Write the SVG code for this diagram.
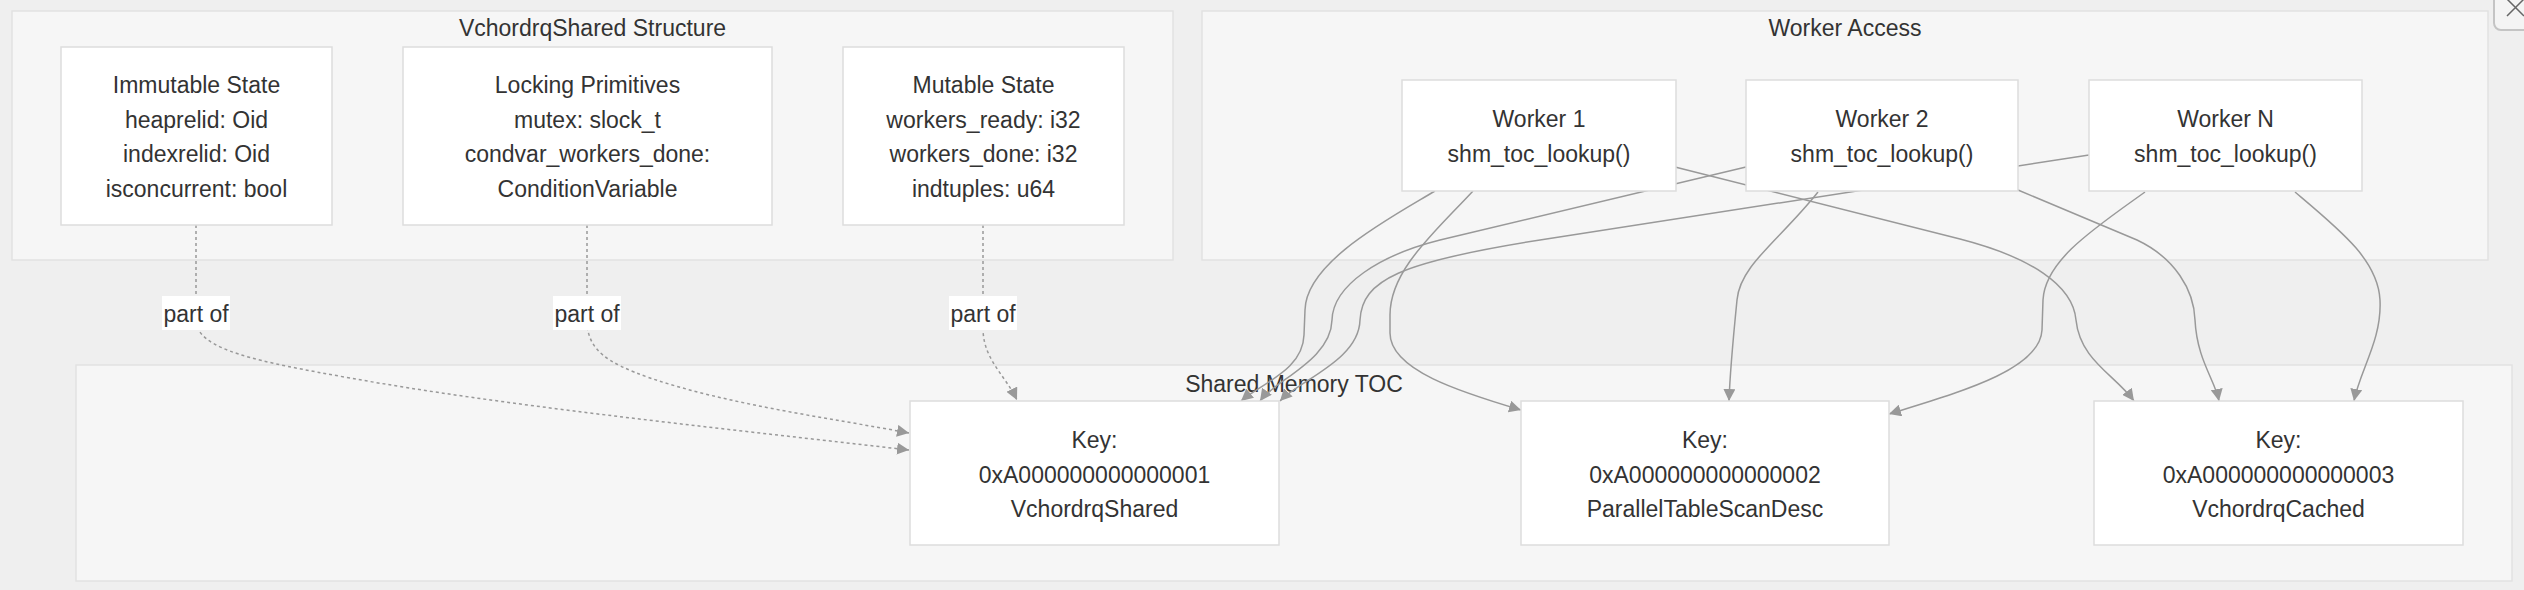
<svg xmlns="http://www.w3.org/2000/svg" width="2524" height="590" viewBox="0 0 2524 590">
<style>
  text { font-family: "Liberation Sans", Arial, Helvetica, sans-serif; font-size: 23px; fill: #333333; text-anchor: middle; }
  .cluster { fill: #f6f6f6; stroke: #e2e2e2; stroke-width: 1.5; }
  .node rect { fill: #ffffff; stroke: #dddddd; stroke-width: 1.5; }
  .edge { fill: none; stroke: #999999; stroke-width: 1.5; }
  .dotted { stroke-dasharray: 3 3; }
  .lbl { fill: #ffffff; }
</style>
<defs>
  <marker id="arrow" viewBox="0 0 10 10" refX="10" refY="5" markerUnits="userSpaceOnUse" markerWidth="12" markerHeight="12" orient="auto">
    <path d="M0,0 L10,5 L0,10 z" fill="#999999"/>
  </marker>
</defs>
<rect x="0" y="0" width="2524" height="590" fill="#efefef"/>

<g id="clusters">
  <g id="cluster-vchordrq-shared">
    <rect class="cluster" x="12" y="11" width="1161" height="249"/>
    <text x="592.5" y="36">VchordrqShared Structure</text>
  </g>
  <g id="cluster-worker-access">
    <rect class="cluster" x="1202" y="11" width="1286" height="249"/>
    <text x="1845" y="36">Worker Access</text>
  </g>
  <g id="cluster-shared-memory-toc">
    <rect class="cluster" x="76" y="365" width="2436" height="216"/>
    <text x="1294" y="392">Shared Memory TOC</text>
  </g>
</g>

<g id="connectors">
  <path class="edge dotted" marker-end="url(#arrow)" d="M196,225 L196,320 C196,350 260,362 350,378 C500,405 700,426 909,450"/>
  <path class="edge dotted" marker-end="url(#arrow)" d="M587,225 L587,325 C590,350 605,362 650,378 C730,405 830,418 909,433"/>
  <path class="edge dotted" marker-end="url(#arrow)" d="M983,225 L983,330 C984,360 1005,375 1017,400"/>

  <path class="edge" marker-end="url(#arrow)" d="M1435,191 C1390,218 1306,262 1305,310 L1304,335 C1303,370 1262,383 1241,401"/>
  <path class="edge" marker-end="url(#arrow)" d="M1473,191 C1435,232 1390,270 1390,315 L1390,333 C1390,370 1460,392 1521,410"/>
  <path class="edge" marker-end="url(#arrow)" d="M1675,167 L1960,239 C2030,257 2073,285 2076,320 C2080,360 2115,375 2134,401"/>
  <path class="edge" marker-end="url(#arrow)" d="M1746,167 L1440,240 C1380,255 1333,285 1332,320 C1331,360 1275,380 1260,401"/>
  <path class="edge" marker-end="url(#arrow)" d="M1818,192 C1780,240 1740,265 1737,300 C1733,340 1730,370 1729,401"/>
  <path class="edge" marker-end="url(#arrow)" d="M2018,190 L2137,240 C2175,258 2194,290 2195,320 C2197,360 2215,380 2219,401"/>
  <path class="edge" marker-end="url(#arrow)" d="M2089,155 L1540,240 C1400,262 1362,280 1360,320 C1359,360 1300,380 1280,401"/>
  <path class="edge" marker-end="url(#arrow)" d="M2145,192 C2095,228 2045,260 2043,300 L2042,330 C2040,370 1960,392 1889,414"/>
  <path class="edge" marker-end="url(#arrow)" d="M2295,192 C2340,230 2378,260 2380,300 C2382,340 2360,370 2354,401"/>

  <g id="label-partof-1">
    <rect class="lbl" x="162" y="296" width="68" height="34"/>
    <text x="196" y="322">part of</text>
  </g>
  <g id="label-partof-2">
    <rect class="lbl" x="553" y="296" width="68" height="34"/>
    <text x="587" y="322">part of</text>
  </g>
  <g id="label-partof-3">
    <rect class="lbl" x="949" y="296" width="68" height="34"/>
    <text x="983" y="322">part of</text>
  </g>
</g>

<g id="node-immutable" class="node">
  <rect x="61" y="47" width="271" height="178"/>
  <text x="196.5" y="93">Immutable State</text>
  <text x="196.5" y="127.5">heaprelid: Oid</text>
  <text x="196.5" y="162">indexrelid: Oid</text>
  <text x="196.5" y="196.5">isconcurrent: bool</text>
</g>
<g id="node-locking" class="node">
  <rect x="403" y="47" width="369" height="178"/>
  <text x="587.5" y="93">Locking Primitives</text>
  <text x="587.5" y="127.5">mutex: slock_t</text>
  <text x="587.5" y="162">condvar_workers_done:</text>
  <text x="587.5" y="196.5">ConditionVariable</text>
</g>
<g id="node-mutable" class="node">
  <rect x="843" y="47" width="281" height="178"/>
  <text x="983.5" y="93">Mutable State</text>
  <text x="983.5" y="127.5">workers_ready: i32</text>
  <text x="983.5" y="162">workers_done: i32</text>
  <text x="983.5" y="196.5">indtuples: u64</text>
</g>
<g id="node-worker1" class="node">
  <rect x="1402" y="80" width="274" height="111"/>
  <text x="1539" y="127">Worker 1</text>
  <text x="1539" y="162">shm_toc_lookup()</text>
</g>
<g id="node-worker2" class="node">
  <rect x="1746" y="80" width="272" height="111"/>
  <text x="1882" y="127">Worker 2</text>
  <text x="1882" y="162">shm_toc_lookup()</text>
</g>
<g id="node-workerN" class="node">
  <rect x="2089" y="80" width="273" height="111"/>
  <text x="2225.5" y="127">Worker N</text>
  <text x="2225.5" y="162">shm_toc_lookup()</text>
</g>
<g id="node-key1" class="node">
  <rect x="910" y="401" width="369" height="144"/>
  <text x="1094.5" y="448">Key:</text>
  <text x="1094.5" y="482.5">0xA000000000000001</text>
  <text x="1094.5" y="517">VchordrqShared</text>
</g>
<g id="node-key2" class="node">
  <rect x="1521" y="401" width="368" height="144"/>
  <text x="1705" y="448">Key:</text>
  <text x="1705" y="482.5">0xA000000000000002</text>
  <text x="1705" y="517">ParallelTableScanDesc</text>
</g>
<g id="node-key3" class="node">
  <rect x="2094" y="401" width="369" height="144"/>
  <text x="2278.5" y="448">Key:</text>
  <text x="2278.5" y="482.5">0xA000000000000003</text>
  <text x="2278.5" y="517">VchordrqCached</text>
</g>

<g id="corner-button">
  <rect x="2494" y="-12" width="44" height="42" rx="7" fill="#f4f4f4" stroke="#c4c4c4" stroke-width="2"/>
  <path d="M2507,16 L2524,-1 M2507,-1 L2524,16" stroke="#666666" stroke-width="1.5" fill="none"/>
</g>
</svg>
